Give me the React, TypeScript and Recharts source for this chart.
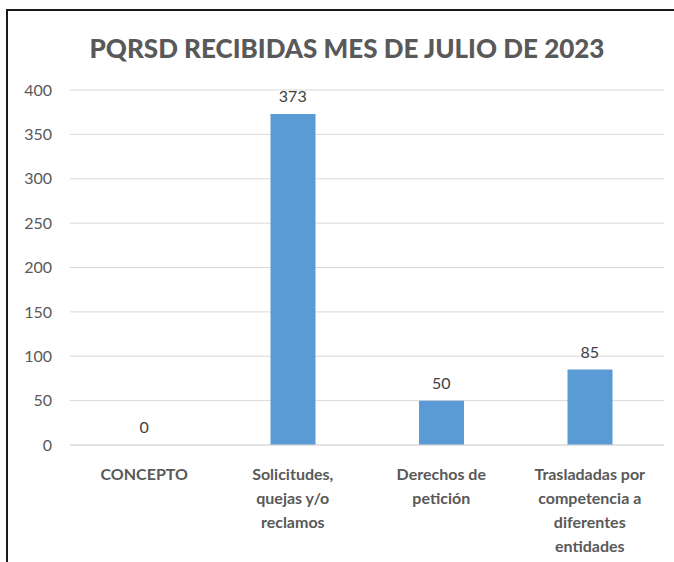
import {
  Bar,
  CartesianGrid,
  ComposedChart,
  LabelList,
  Line,
  XAxis,
  YAxis,
} from "recharts";

const categories = [
  "CONCEPTO",
  "Solicitudes, quejas y/o reclamos",
  "Derechos de petición",
  "Trasladadas por competencia a diferentes entidades",
];
const categoryLines = [
  ["CONCEPTO"],
  ["Solicitudes,", "quejas y/o", "reclamos"],
  ["Derechos de", "petición"],
  ["Trasladadas por", "competencia a", "diferentes", "entidades"],
];
const values = [0, 373, 50, 85];
const yTicks = [0, 50, 100, 150, 200, 250, 300, 350, 400];

const data = categories.map((c, i) => ({ name: c, value: values[i] }));

const FONT = "Lato, 'Open Sans', sans-serif";

const CategoryTick = (props: any) => {
  const { x, y, index } = props;
  const lines = categoryLines[index] || [];
  return (
    <text
      x={x}
      y={y}
      textAnchor="middle"
      fill="#595959"
      fontFamily={FONT}
      fontWeight="bold"
      fontSize={16}
    >
      {lines.map((l: string, i: number) => (
        <tspan key={i} x={x} dy={i === 0 ? 27 : 24}>
          {l}
        </tspan>
      ))}
    </text>
  );
};

const App = () => (
  <div
    style={{
      position: "absolute",
      left: 0,
      top: 0,
      width: 674,
      height: 562,
      background: "#fff",
      overflow: "hidden",
    }}
  >
    <div
      style={{
        position: "absolute",
        left: 6,
        top: 9,
        width: 700,
        height: 600,
        borderTop: "2px solid #1a1a1a",
        borderLeft: "2px solid #1a1a1a",
      }}
    />
    <div
      style={{
        position: "absolute",
        left: 0,
        width: 694,
        top: 30,
        textAlign: "center",
        fontFamily: FONT,
        fontWeight: 900,
        fontSize: 26,
        color: "#595959",
        lineHeight: "36px",
      }}
    >
      PQRSD RECIBIDAS MES DE JULIO DE 2023
    </div>
    <div style={{ position: "absolute", left: 0, top: 0 }}>
      <ComposedChart
        width={674}
        height={562}
        data={data}
        margin={{ top: 90, right: 10, bottom: 7, left: 0 }}
      >
        <CartesianGrid vertical={false} stroke="#d9d9d9" />
        <XAxis
          dataKey="name"
          axisLine={{ stroke: "#d9d9d9" }}
          tickLine={false}
          interval={0}
          height={110}
          tick={<CategoryTick />}
        />
        <YAxis
          domain={[0, 400]}
          ticks={yTicks}
          width={70}
          axisLine={false}
          tickLine={false}
          tickMargin={12}
          tick={{ fill: "#595959", fontSize: 16, fontFamily: FONT }}
        />
        <Bar dataKey="value" fill="#5b9bd5" barSize={45} isAnimationActive={false} />
        {/* invisible line only used to place value labels (bars with 0 get no label) */}
        <Line
          dataKey="value"
          stroke="none"
          dot={false}
          activeDot={false}
          isAnimationActive={false}
        >
          <LabelList
            dataKey="value"
            position="top"
            offset={12}
            fill="#404040"
            fontSize={16}
            fontFamily={FONT}
          />
        </Line>
      </ComposedChart>
    </div>
  </div>
);

export default App;
